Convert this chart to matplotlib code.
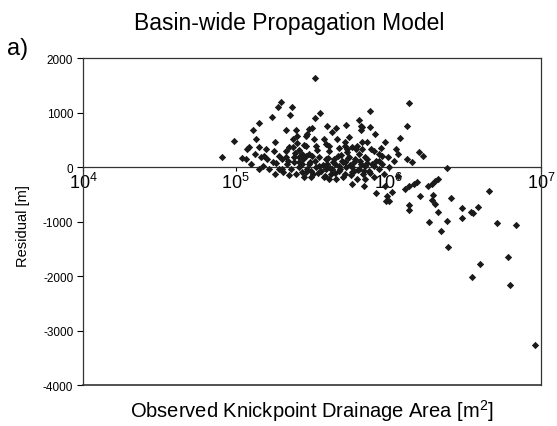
import matplotlib
matplotlib.use('Agg')
import matplotlib.pyplot as plt
from matplotlib.ticker import FixedLocator, NullLocator, LogFormatterMathtext

plt.rcParams['font.family'] = ['Liberation Sans', 'DejaVu Sans']
plt.rcParams['mathtext.fontset'] = 'custom'
plt.rcParams['mathtext.rm'] = 'Liberation Sans'
plt.rcParams['mathtext.it'] = 'Liberation Sans'

# observed knickpoint drainage area [m^2] and residual [m]
area = [
    8.1e4, 9.8e4, 1.10e5, 1.19e5, 1.29e5, 1.41e5, 1.35e5, 1.42e5, 1.17e5, 1.26e5,
    1.57e5, 1.53e5, 1.72e5, 1.89e5, 1.99e5, 2.12e5, 1.80e5, 1.78e5, 2.26e5, 2.34e5,
    2.47e5, 2.53e5, 2.87e5, 2.79e5, 1.50e5, 1.65e5, 1.92e5, 2.23e5, 2.36e5, 2.40e5,
    2.12e5, 1.92e5, 2.59e5, 2.72e5, 2.87e5, 1.74e5, 1.42e5,
    3.30e5, 1.36e6, 7.5e5, 3.54e5, 3.30e5, 3.96e5, 4.54e5, 5.30e5, 6.38e5, 6.55e5,
    7.5e5, 8.1e5, 3.16e5, 2.94e5, 1.32e6, 1.19e6, 4.06e5, 4.72e5, 5.22e5, 5.35e5,
    6.21e5, 6.70e5, 7.22e5, 6.38e5, 8.96e5, 9.9e5, 9.05e5, 1.11e6, 1.16e6, 1.32e6,
    1.42e6, 1.57e6, 1.69e6, 2.40e6, 2.87e5, 3.16e5, 3.50e5, 3.87e5, 4.27e5, 4.72e5,
    5.22e5, 5.77e5, 6.38e5, 7.05e5, 7.78e5, 8.61e5,
    5.77e5, 7.05e5, 6.87e5, 8.26e5, 9.51e5, 9.75e5, 1.05e6, 1.16e6, 1.28e6, 1.35e6,
    1.46e6, 1.53e6, 1.61e6, 1.82e6, 1.92e6, 2.01e6, 2.12e6, 1.96e6, 2.56e6, 4.55e6,
    9.6e5, 1.36e6, 1.36e6, 1.84e6, 1.92e6, 2.01e6, 2.12e6, 2.19e6, 2.42e6, 2.46e6,
    3.03e6, 3.01e6, 3.46e6, 3.58e6, 3.82e6, 5.15e6, 6.85e6, 6.08e6, 3.99e6, 3.49e6,
    6.27e6, 9.03e6, 1.0e6,
    6.55e5, 6.70e5, 5.22e5, 5.77e5, 6.70e5, 3.01e5, 1.22e5, 3.33e5, 3.87e5,
    2.01e5, 2.17e5, 2.30e5, 2.48e5, 2.59e5, 2.75e5, 2.92e5, 3.06e5, 3.20e5, 3.34e5,
    3.50e5, 3.61e5, 3.77e5, 3.94e5, 4.06e5, 4.19e5, 4.38e5, 4.52e5, 4.72e5, 4.86e5,
    5.01e5, 5.25e5, 5.48e5, 5.65e5, 5.92e5, 6.10e5, 6.19e5, 6.57e5, 6.77e5, 6.98e5,
    7.41e5, 7.64e5, 7.98e5, 8.22e5, 8.61e5, 9.0e5, 9.27e5, 3.40e5, 3.01e5, 2.59e5,
    2.13e5, 2.40e5, 2.79e5, 3.10e5, 4.06e5, 2.23e5, 2.01e5, 1.84e5, 1.60e5, 3.77e5,
    4.58e5, 5.48e5, 4.26e5, 4.94e5, 3.24e5, 2.52e5, 5.92e5, 7.98e5, 7.19e5, 8.61e5,
    1.0e6, 9.42e5, 1.08e6, 1.81e5, 1.47e5, 1.34e5, 4.45e5, 5.32e5, 3.89e5, 2.71e5,
    2.37e5,
    2.6e5, 2.9e5, 3.1e5, 3.3e5, 3.45e5, 3.7e5, 3.85e5, 4.0e5, 4.15e5, 4.3e5,
    4.45e5, 4.65e5, 4.8e5, 5.0e5, 5.15e5, 5.4e5, 5.6e5, 5.8e5, 6.0e5, 6.3e5,
    6.5e5, 6.9e5, 7.2e5, 7.6e5, 8.0e5, 3.0e5, 2.7e5, 2.45e5, 2.2e5, 2.05e5,
]
residual = [
    195, 490, 170, 335, 685, 805, 520, 380, 150, 60,
    335, 215, 930, 1100, 1200, 690, 460, 305, 960, 1100,
    690, 570, 580, 410, 30, -30, -30, 365, 370, 185,
    185, 215, 185, 60, -90, 90, -30,
    1640, 1180, 1040, 1000, 900, 765, 715, 775, 870, 765,
    735, 610, 715, 610, 750, 530, 385, 350, 395, 275,
    395, 335, 150, 245, 350, 185, 200, 335, 245, 150,
    100, 275, 200, -15, 395, 215, 30, 150, -30, 30,
    90, 0, -30, 30, 60, 120,
    -305, -215, -340, -470, -340, -520, -460, -155, -400, -340,
    -305, -275, -520, -340, -305, -245, -215, -510, -565, -440,
    -615, -690, -785, -1010, -595, -675, -825, -1165, -980, -1455,
    -745, -930, -825, -830, -735, -1020, -1055, -1650, -1775, -2020,
    -2160, -3255, -615,
    685, 735, 460, 365, 460, 705, 365, 395, 430,
    150, 60, -30, -125, 5, 150, -30, 95, -125, 5,
    190, -70, -180, 60, 300, -125, 150, -215, -70, 225,
    -180, 5, 190, -140, 95, 335, -215, 60, -125, 190,
    -70, 335, -180, 115, -30, 60, -125, 315, 245, 315,
    300, 95, -180, -180, -215, -140, -30, 80, 150, 520,
    520, 555, 650, 115, 520, 445, -70, 300, 465, 245,
    5, 465, 115, -125, 190, 245, 60, 335, -30, 245,
    520,
    100, 200, -60, 120, -100, 40, -150, 180, -20, 90,
    -100, 200, -30, 100, -120, 180, 40, -90, 150, -40,
    120, -60, 80, -110, 20, 60, -80, 260, 120, -80,
]

x_ticks = [1e4, 1e5, 1e6, 1e7]
y_ticks = [-4000, -3000, -2000, -1000, 0, 1000, 2000]

fig = plt.figure(figsize=(5.57, 4.27), dpi=100)
ax = fig.add_axes([0.149, 0.095, 0.823, 0.766])

ax.scatter(area, residual, marker='D', s=14, color='#1a1a1a', linewidths=0, zorder=3)

ax.set_xscale('log')
ax.set_xlim(1e4, 1e7)
ax.set_ylim(y_ticks[0], y_ticks[-1])

line_col = '#333333'
for sp in ax.spines.values():
    sp.set_linewidth(0.9)
    sp.set_color(line_col)

# x axis runs along residual = 0, box still closed at the bottom
ax.spines['bottom'].set_position(('data', 0))
ax.axhline(y_ticks[0], color=line_col, lw=1.2, clip_on=False, zorder=4)

ax.xaxis.set_major_locator(FixedLocator(x_ticks))
ax.xaxis.set_minor_locator(NullLocator())
ax.xaxis.set_major_formatter(LogFormatterMathtext())
ax.tick_params(axis='x', direction='out', length=3, width=0.8, labelsize=13, pad=0)

ax.set_xlabel('Observed Knickpoint Drainage Area [m$^2$]', fontsize=14.5)
ax.xaxis.set_label_coords(0.5, -0.035)

ax.set_yticks(y_ticks)
ax.set_yticklabels([str(v) for v in y_ticks])
ax.tick_params(axis='y', direction='out', length=4, width=0.8, labelsize=8.5, pad=3)
ax.set_ylabel('Residual [m]', fontsize=10.5)
ax.yaxis.set_label_coords(-0.115, 0.49)

fig.text(0.52, 0.93, 'Basin-wide Propagation Model', fontsize=16.5, ha='center', va='baseline')
fig.text(0.013, 0.872, 'a)', fontsize=17, ha='left', va='baseline')

fig.savefig('out.png', dpi=100)
